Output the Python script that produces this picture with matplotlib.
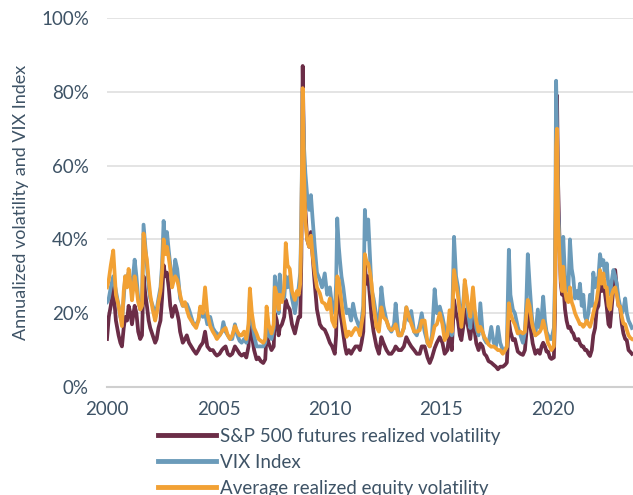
import matplotlib.pyplot as plt
from matplotlib.ticker import FuncFormatter

# decimal year, S&P 500 futures realized vol, VIX, average realized equity vol (%)
dates = [
    2000.00, 2000.08, 2000.17, 2000.28, 2000.40, 2000.52, 2000.60, 2000.67, 2000.75, 2000.82,
    2000.90, 2000.97, 2001.05, 2001.12, 2001.24, 2001.32, 2001.40, 2001.49, 2001.57, 2001.64,
    2001.72, 2001.79, 2001.87, 2001.94, 2002.05, 2002.16, 2002.23, 2002.31, 2002.40, 2002.47,
    2002.54, 2002.62, 2002.69, 2002.77, 2002.84, 2002.92, 2003.00, 2003.06, 2003.15, 2003.22,
    2003.28, 2003.40, 2003.50, 2003.58, 2003.68, 2003.78, 2003.88, 2004.00, 2004.10, 2004.18,
    2004.30, 2004.40, 2004.50, 2004.63, 2004.75, 2004.85, 2004.93, 2005.05, 2005.15, 2005.22,
    2005.32, 2005.42, 2005.52, 2005.62, 2005.74, 2005.85, 2005.95, 2006.04, 2006.15, 2006.25,
    2006.35, 2006.41, 2006.50, 2006.60, 2006.71, 2006.80, 2006.90, 2007.01, 2007.10, 2007.16,
    2007.25, 2007.38, 2007.48, 2007.53, 2007.62, 2007.70, 2007.75, 2007.85, 2007.95, 2008.02,
    2008.10, 2008.20, 2008.30, 2008.43, 2008.52, 2008.60, 2008.67, 2008.72, 2008.78, 2008.84,
    2008.90, 2008.98, 2009.07, 2009.15, 2009.22, 2009.32, 2009.42, 2009.55, 2009.65, 2009.77,
    2009.88, 2010.00, 2010.10, 2010.22, 2010.28, 2010.33, 2010.40, 2010.45, 2010.52, 2010.60,
    2010.68, 2010.75, 2010.85, 2010.95, 2011.04, 2011.15, 2011.27, 2011.35, 2011.42, 2011.50,
    2011.57, 2011.64, 2011.72, 2011.80, 2011.87, 2011.96, 2012.09, 2012.20, 2012.31, 2012.40,
    2012.54, 2012.65, 2012.76, 2012.88, 2012.95, 2013.08, 2013.20, 2013.32, 2013.43, 2013.55,
    2013.65, 2013.78, 2013.90, 2014.03, 2014.12, 2014.25, 2014.38, 2014.48, 2014.58, 2014.70,
    2014.80, 2014.93, 2015.05, 2015.15, 2015.27, 2015.37, 2015.47, 2015.57, 2015.66, 2015.75,
    2015.83, 2015.90, 2016.00, 2016.05, 2016.12, 2016.20, 2016.30, 2016.42, 2016.50, 2016.57,
    2016.67, 2016.75, 2016.85, 2016.93, 2017.02, 2017.12, 2017.24, 2017.35, 2017.45, 2017.54,
    2017.64, 2017.76, 2017.86, 2017.94, 2018.03, 2018.10, 2018.21, 2018.30, 2018.43, 2018.55,
    2018.66, 2018.75, 2018.82, 2018.88, 2018.96, 2019.05, 2019.10, 2019.22, 2019.33, 2019.42,
    2019.50, 2019.57, 2019.65, 2019.72, 2019.79, 2019.87, 2019.94, 2020.05, 2020.10, 2020.15,
    2020.19, 2020.24, 2020.30, 2020.36, 2020.42, 2020.47, 2020.55, 2020.62, 2020.70, 2020.77,
    2020.85, 2020.92, 2021.00, 2021.07, 2021.15, 2021.22, 2021.30, 2021.37, 2021.45, 2021.52,
    2021.60, 2021.67, 2021.75, 2021.82, 2021.90, 2021.97, 2022.05, 2022.12, 2022.20, 2022.27,
    2022.35, 2022.42, 2022.50, 2022.57, 2022.65, 2022.72, 2022.80, 2022.87, 2022.95, 2023.02,
    2023.10, 2023.17, 2023.25, 2023.32, 2023.40, 2023.48, 2023.55,
]

spx_vol = [
    13, 19, 22, 27, 18, 14, 12, 11, 16, 19,
    18, 22, 20, 17, 22, 20, 15, 13, 14, 30,
    25, 22, 18, 16, 14, 12, 13, 16, 18, 24,
    33, 30, 31, 27, 22, 19, 21, 22, 20, 18,
    15, 12, 13, 14, 12, 11, 10, 9, 10, 11,
    12, 15, 11, 10, 10, 9, 8.5, 9, 10, 10.5,
    11, 9, 8.5, 9, 11, 10, 9, 8.5, 9, 8,
    11, 19, 14, 10, 7.5, 8, 7, 6.5, 7.5, 14.5,
    12, 10, 11, 20, 18, 14, 16, 17, 19, 23.6,
    22, 21, 17, 14.5, 17, 19, 19, 35, 87, 62,
    48, 40, 38, 42, 36, 28, 21, 17, 16, 15.5,
    14, 12, 11, 9, 14, 27, 24, 21, 18, 14.5,
    11, 9, 10, 9, 10, 11, 11, 10, 12, 15,
    33, 28, 30, 24, 19, 15, 11, 9, 13.5, 12,
    10, 9, 9, 10, 11, 10, 10, 11, 13.5, 12,
    11, 10, 9, 9, 11, 11, 8, 6.5, 8, 10.5,
    12, 13.5, 12, 9, 10, 14.5, 10, 23.6, 20, 18,
    14, 12.7, 17, 21, 19, 16.3, 13, 20, 15, 11.8,
    10, 11.8, 11, 9, 8.4, 7, 6.6, 6, 5.5, 4.8,
    5.5, 5.5, 6, 6.6, 18, 15, 12.7, 13, 9.6, 9,
    8.7, 10, 15, 21, 18, 14, 11.8, 9, 10, 9,
    11, 12, 11, 9.6, 9.6, 8, 7.6, 8, 20, 55,
    79, 55, 40, 28, 25, 28, 21, 18, 16, 16.3,
    15, 14.5, 13, 12.7, 13, 11.8, 11, 11, 10, 10,
    9, 8.4, 10, 14, 16, 21, 22, 30, 26, 29,
    25, 21.8, 17, 16.3, 22, 27, 31.7, 27, 22, 21.8,
    17, 14.5, 13, 12.7, 10, 9.5, 9,
]

vix = [
    23, 24, 27, 30, 26, 22, 19, 18, 24, 30,
    29, 31, 28, 27, 34.5, 30, 24, 21, 23, 44,
    38, 33, 27, 24, 22, 20, 21, 24, 27, 33,
    45, 38, 42, 37, 33, 28, 30, 34.5, 32, 28,
    24, 22, 22, 22.5, 21, 19, 17, 17, 18, 21,
    19, 20, 17, 19, 16, 15, 14.5, 14, 15, 17.6,
    15, 14, 13, 13, 17, 14, 12.5, 12, 13, 12,
    16, 24.5, 18, 14, 11, 11, 11, 11, 12, 18,
    14, 13, 16, 30, 26, 20, 30.5, 24, 24, 30,
    27, 30, 24, 20, 24, 27, 31, 45, 80, 65,
    58, 52, 48, 52, 46, 38, 31, 29, 27, 30.8,
    25, 27, 22, 20, 28, 45.7, 38, 34.4, 30, 27,
    23, 20, 21, 18, 22.6, 19, 17, 16, 18, 22,
    48, 40, 45.4, 35, 26.3, 24, 19, 16, 27, 22,
    18, 16, 15, 17, 22.6, 14, 14, 16, 21.6, 18,
    20.6, 15, 14, 17, 20, 15, 12, 11, 14, 26.5,
    20, 21.8, 19, 16, 14, 19, 14, 40.7, 30, 27,
    20, 18, 24, 28, 25, 20, 16, 25, 19, 16,
    14, 22.7, 15, 13, 12, 12, 16.3, 12, 11, 16.3,
    12, 10, 10, 11, 37.2, 25, 21, 20, 16.3, 14,
    12, 15, 24, 36, 28, 20, 17, 14, 21, 16,
    19, 24.5, 18, 15, 14, 13, 13, 16, 30, 83,
    70, 48, 40, 33, 29, 40.7, 30, 28, 26, 40,
    32, 29.6, 24, 26, 24, 28, 22, 25, 19, 18,
    20, 25, 22, 31, 27, 29, 30, 36, 33, 34.4,
    30, 33.5, 27, 25, 29, 31.7, 30, 28, 24, 22,
    20, 21, 24, 20, 18, 17, 16,
]

avg_vol = [
    27, 29, 33, 37, 25, 22, 19, 16.5, 26, 30,
    27, 32, 28, 23.5, 30, 27, 23, 21, 22, 41.6,
    37, 34.5, 29, 25, 21, 18, 20, 23, 26, 31,
    40, 36, 38, 35, 32, 27, 29, 30, 29, 27,
    25, 22, 23, 21, 19, 18, 17, 16, 18, 21.8,
    20, 27, 20, 16.5, 15, 14, 13, 14, 15, 15.5,
    16, 14, 13, 14, 16.5, 15, 14, 14, 15, 13,
    17, 26.7, 20, 16, 14.5, 13, 12.5, 12, 13, 21.8,
    17, 14.5, 17, 27, 25, 21, 25, 23, 27, 39,
    33, 32, 26, 23.6, 26, 25, 28, 42, 81, 58,
    45, 40, 38, 41, 36, 31, 27, 25.4, 23, 22.6,
    21, 24, 18, 16.3, 21, 30, 29, 26.6, 23, 19,
    16, 13.6, 15, 14, 15, 16, 15.4, 14, 17, 20,
    36, 34, 33.5, 31, 28, 22, 16.3, 15, 21.6, 19,
    18, 16, 15.4, 16, 17, 14, 14, 16, 21.6, 19,
    17.2, 15, 15, 15.4, 18, 18, 12, 11, 13, 16.5,
    17, 20, 17, 12.7, 14, 20.8, 15, 31.7, 28, 24.5,
    20, 16.3, 22, 29, 26, 22, 19, 27, 21, 18,
    15, 16.3, 15, 13.5, 12.7, 11.5, 10.9, 11, 10.5, 10,
    10, 9, 10, 10.9, 22.7, 20, 18, 17, 14.5, 15,
    14.5, 15, 20, 23.6, 22, 18, 16.3, 14, 14.5, 15,
    16, 18, 16, 14, 11.8, 11, 10, 11, 25, 65,
    70, 45, 36, 29, 26, 32.6, 26, 23.6, 23, 27,
    23, 21.8, 20, 19, 18, 17, 17, 16.3, 17, 18,
    17, 16.3, 18, 20, 22, 23.6, 27, 31.7, 28, 30.8,
    27, 27, 22, 21, 25, 26.3, 27, 25, 22, 21.8,
    19, 17.2, 17, 15.5, 14, 13.3, 13,
]

labels = ["S&P 500 futures realized volatility", "VIX Index", "Average realized equity volatility"]
colors = ["#6B2D47", "#6B9BBA", "#F2A134"]
text_color = "#3E5366"

plt.rcParams['font.family'] = ['Lato', 'DejaVu Sans']

fig = plt.figure(figsize=(6.33, 4.95), dpi=100)
ax = fig.add_axes([107 / 633, 1 - 387 / 495, 1 - 107 / 633, 369 / 495])

for series, lab, col, z in zip([spx_vol, vix, avg_vol], labels, colors, [2, 3, 4]):
    ax.plot(dates, series, color=col, lw=2.7, label=lab, zorder=z, solid_joinstyle='round')

ax.set_xlim(2000, 2023.6)
ax.set_ylim(0, 100)
ax.set_xticks([2000, 2005, 2010, 2015, 2020])
ax.set_yticks([0, 20, 40, 60, 80, 100])
ax.yaxis.set_major_formatter(FuncFormatter(lambda v, p: f"{v:.0f}%"))
ax.grid(axis='y', color='#E2E2E2', lw=1.3, zorder=0)
ax.tick_params(length=0, labelsize=13.5, colors=text_color)
ax.tick_params(axis='y', pad=13)
ax.tick_params(axis='x', pad=10)
for s in ['top', 'right', 'left']:
    ax.spines[s].set_visible(False)
ax.spines['bottom'].set_color('#CFCFCF')
ax.spines['bottom'].set_linewidth(1.5)
ax.set_ylabel("Annualized volatility and VIX Index", fontsize=13, color=text_color)
ax.yaxis.set_label_coords(-0.148, 0.5)

leg = fig.legend(loc='upper left', bbox_to_anchor=(158 / 633, 1 - 428 / 495), frameon=False,
                 fontsize=13.5, handlelength=3.1, handletextpad=0.2, labelspacing=0.48,
                 borderpad=0, borderaxespad=0)
for line in leg.get_lines():
    line.set_linewidth(3.5)
for t in leg.get_texts():
    t.set_color(text_color)

fig.savefig('out.png', dpi=100)
